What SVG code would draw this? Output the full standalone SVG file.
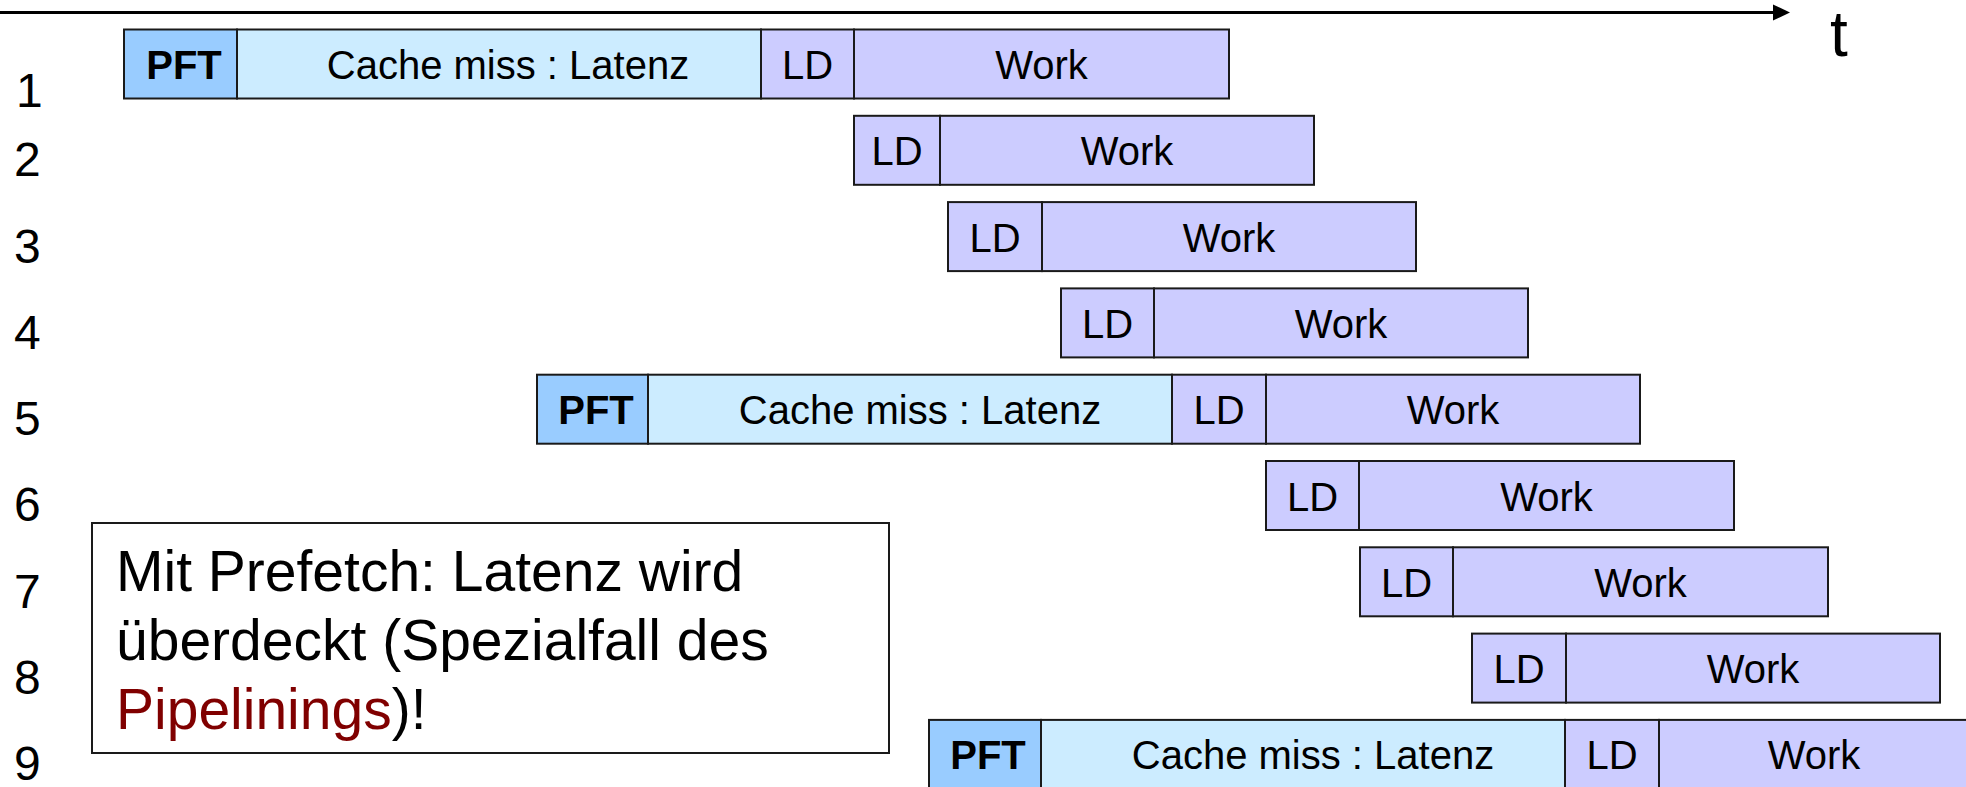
<svg xmlns="http://www.w3.org/2000/svg" width="1966" height="787" viewBox="0 0 1966 787">
  <defs>
    <style>
      text { font-family: "Liberation Sans", Arial, sans-serif; fill: #000; }
      .seg { stroke: #1a1a1a; stroke-width: 2; }
      .pft { fill: #99CCFF; }
      .miss { fill: #CCECFF; }
      .ld, .work { fill: #CCCCFF; }
      .lbl { font-size: 40px; text-anchor: middle; }
      .b { font-weight: bold; }
      .row { font-size: 48px; }
      .note { font-size: 57px; }
      .red { fill: #800000; }
    </style>
  </defs>

  <!-- time axis -->
  <g id="axis">
    <line x1="0" y1="12.5" x2="1776" y2="12.5" stroke="#000" stroke-width="3"/>
    <polygon points="1773,4.5 1790,12.5 1773,20.5" fill="#000"/>
    <text x="1830" y="56" font-size="64">t</text>
  </g>

  <!-- iteration numbers -->
  <g id="iterations" class="row">
    <text x="16" y="107">1</text>
    <text x="14" y="176">2</text>
    <text x="14" y="263">3</text>
    <text x="14" y="349">4</text>
    <text x="14" y="435">5</text>
    <text x="14" y="521">6</text>
    <text x="14" y="608">7</text>
    <text x="14" y="694">8</text>
    <text x="14" y="780">9</text>
  </g>

  <!-- iteration 1: prefetch, miss latency, load, work -->
  <g id="it1">
    <rect class="seg pft" x="124" y="29.5" width="113" height="69"/>
    <rect class="seg miss" x="237" y="29.5" width="524" height="69"/>
    <rect class="seg ld" x="761" y="29.5" width="93" height="69"/>
    <rect class="seg work" x="854" y="29.5" width="375" height="69"/>
    <text class="lbl b" x="184" y="79">PFT</text>
    <text class="lbl" x="508" y="79">Cache miss : Latenz</text>
    <text class="lbl" x="807.5" y="79">LD</text>
    <text class="lbl" x="1041.5" y="79">Work</text>
  </g>

  <g id="it2">
    <rect class="seg ld" x="854" y="115.8" width="86" height="69"/>
    <rect class="seg work" x="940" y="115.8" width="374" height="69"/>
    <text class="lbl" x="897" y="165.3">LD</text>
    <text class="lbl" x="1127" y="165.3">Work</text>
  </g>

  <g id="it3">
    <rect class="seg ld" x="948" y="202.1" width="94" height="69"/>
    <rect class="seg work" x="1042" y="202.1" width="374" height="69"/>
    <text class="lbl" x="995" y="251.6">LD</text>
    <text class="lbl" x="1229" y="251.6">Work</text>
  </g>

  <g id="it4">
    <rect class="seg ld" x="1061" y="288.4" width="93" height="69"/>
    <rect class="seg work" x="1154" y="288.4" width="374" height="69"/>
    <text class="lbl" x="1107.5" y="337.9">LD</text>
    <text class="lbl" x="1341" y="337.9">Work</text>
  </g>

  <g id="it5">
    <rect class="seg pft" x="537" y="374.7" width="111" height="69"/>
    <rect class="seg miss" x="648" y="374.7" width="524" height="69"/>
    <rect class="seg ld" x="1172" y="374.7" width="94" height="69"/>
    <rect class="seg work" x="1266" y="374.7" width="374" height="69"/>
    <text class="lbl b" x="596" y="424.2">PFT</text>
    <text class="lbl" x="920" y="424.2">Cache miss : Latenz</text>
    <text class="lbl" x="1219" y="424.2">LD</text>
    <text class="lbl" x="1453" y="424.2">Work</text>
  </g>

  <g id="it6">
    <rect class="seg ld" x="1266" y="461" width="93" height="69"/>
    <rect class="seg work" x="1359" y="461" width="375" height="69"/>
    <text class="lbl" x="1312.5" y="510.5">LD</text>
    <text class="lbl" x="1546.5" y="510.5">Work</text>
  </g>

  <g id="it7">
    <rect class="seg ld" x="1360" y="547.3" width="93" height="69"/>
    <rect class="seg work" x="1453" y="547.3" width="375" height="69"/>
    <text class="lbl" x="1406.5" y="596.8">LD</text>
    <text class="lbl" x="1640.5" y="596.8">Work</text>
  </g>

  <g id="it8">
    <rect class="seg ld" x="1472" y="633.6" width="94" height="69"/>
    <rect class="seg work" x="1566" y="633.6" width="374" height="69"/>
    <text class="lbl" x="1519" y="683.1">LD</text>
    <text class="lbl" x="1753" y="683.1">Work</text>
  </g>

  <g id="it9">
    <rect class="seg pft" x="929" y="719.9" width="112" height="69"/>
    <rect class="seg miss" x="1041" y="719.9" width="524" height="69"/>
    <rect class="seg ld" x="1565" y="719.9" width="94" height="69"/>
    <rect class="seg work" x="1659" y="719.9" width="310" height="69"/>
    <text class="lbl b" x="988" y="769.4">PFT</text>
    <text class="lbl" x="1313" y="769.4">Cache miss : Latenz</text>
    <text class="lbl" x="1612" y="769.4">LD</text>
    <text class="lbl" x="1814" y="769.4">Work</text>
  </g>

  <!-- explanatory note -->
  <g id="note">
    <rect x="92" y="523" width="797" height="230" fill="#fff" stroke="#1a1a1a" stroke-width="2"/>
    <text class="note" x="116" y="591">Mit Prefetch: Latenz wird</text>
    <text class="note" x="116" y="660">überdeckt (Spezialfall des</text>
    <text class="note" x="116" y="729"><tspan class="red">Pipelinings</tspan>)!</text>
  </g>
</svg>
